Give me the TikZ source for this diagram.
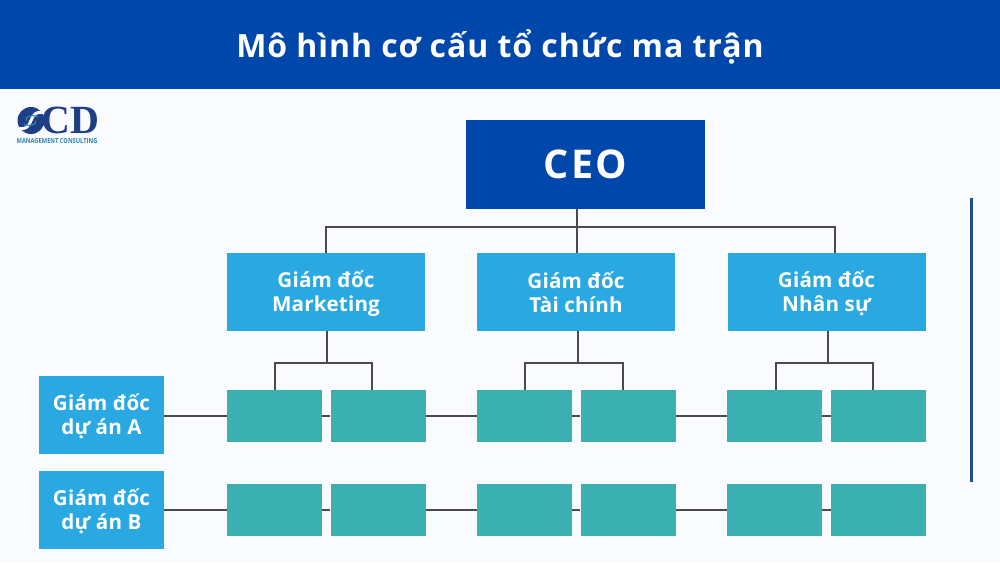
\documentclass[tikz,border=0pt]{standalone}
\usepackage{fontspec}
\setmainfont{Open Sans}
\newfontfamily\logofont{Liberation Serif}
\usepackage{xcolor}
\usetikzlibrary{calc}

\definecolor{titleblue}{HTML}{0047AB}
\definecolor{pagetint}{HTML}{F9FBFF}
\definecolor{dirblue}{HTML}{2AA8E2}
\definecolor{teamteal}{HTML}{3AB1B0}
\definecolor{wiregray}{HTML}{4A4A4F}
\definecolor{logoblue}{HTML}{1F3F85}
\definecolor{logoteal}{HTML}{2F83B5}
\definecolor{sidebar}{HTML}{1E4F93}

\newcommand{\boxstrut}{\rule[-2.4pt]{0pt}{22.4pt}}
\newcommand{\twolines}[2]{\boxstrut #1\\\boxstrut #2}

\tikzset{
	dirbox/.style={fill=dirblue, text=white, font=\fontsize{20.6}{24}\selectfont\bfseries\addfontfeatures{LetterSpace=1}, align=center, minimum width=198pt, minimum height=78pt, inner sep=0pt},
	leadbox/.style={dirbox, minimum width=125pt},
	teambox/.style={fill=teamteal, minimum width=95pt, minimum height=52pt, inner sep=0pt},
	wire/.style={draw=wiregray, line width=1.5pt}
}

\begin{document}
\begin{tikzpicture}[x=1pt, y=-1pt]
		\useasboundingbox (0,0) rectangle (1000,562);
		\fill [pagetint] (0,0) rectangle (1000,562);

		\begin{scope}
			\fill [titleblue] (0,0) rectangle (1000,88.5);
			\node [anchor=base, text=white, font=\fontsize{32}{36}\selectfont\bfseries\addfontfeatures{LetterSpace=2.9}] (title) at (500,57.3) {Mô hình cơ cấu tổ chức ma trận};
		\end{scope}

		\begin{scope}
			\fill [logoblue] (31,120.5) circle [radius=13.5];
			\draw [pagetint, line width=3pt] (46,113) .. controls (24,108) and (38,133) .. (16,128);
			\draw [logoteal, line width=1.2pt] (38,116.5) .. controls (29,114.5) and (25,117) .. (26.5,120.5);
			\draw [logoteal, line width=1.2pt] (24,124.5) .. controls (33,126.5) and (37,124) .. (35.5,120.5);
			\node [text=logoblue, font=\fontsize{40}{40}\logofont\bfseries, inner sep=0pt] (logoCD) at (70.5,120.5) {CD};
			\node [text=logoteal, font=\fontsize{7}{8}\selectfont\bfseries, inner sep=0pt, xscale=0.82] (logoText) at (57,141) {MANAGEMENT CONSULTING};
		\end{scope}

		\begin{scope}
			\node [fill=titleblue, text=white, font=\fontsize{39.6}{44}\selectfont\bfseries\addfontfeatures{LetterSpace=6}, minimum width=239pt, minimum height=89pt, inner sep=0pt] (ceo) at (585.5,164.5) {CEO};

			\node [dirbox] (dirM) at (326,292) {\twolines{Giám đốc}{Marketing}};
			\node [dirbox] (dirT) at (576,292) {\twolines{Giám đốc}{Tài chính}};
			\node [dirbox] (dirN) at (826.5,292) {\twolines{Giám đốc}{Nhân sự}};

			\node [leadbox] (leadA) at (101.5,415) {\twolines{Giám đốc}{dự án A}};
			\node [leadbox] (leadB) at (101.5,510) {\twolines{Giám đốc}{dự án B}};
		\end{scope}

		\begin{scope}
			\node [teambox] (teamA1) at (274.5,416) {};
			\node [teambox] (teamA2) at (378,416) {};
			\node [teambox] (teamA3) at (524.5,416) {};
			\node [teambox] (teamA4) at (628,416) {};
			\node [teambox] (teamA5) at (774.5,416) {};
			\node [teambox] (teamA6) at (878.5,416) {};

			\node [teambox] (teamB1) at (274.5,510) {};
			\node [teambox] (teamB2) at (378,510) {};
			\node [teambox] (teamB3) at (524.5,510) {};
			\node [teambox] (teamB4) at (628,510) {};
			\node [teambox] (teamB5) at (774.5,510) {};
			\node [teambox] (teamB6) at (878.5,510) {};
		\end{scope}

		\begin{scope}
			\coordinate (ceoOut) at (577,209);
			\coordinate (ceoBus) at (577,227);
			\coordinate (dirMIn) at (326,253);
			\coordinate (dirTIn) at (577,253);
			\coordinate (dirNIn) at (835,253);
			\draw [wire] (ceoOut) -- (dirTIn);
			\draw [wire] (dirMIn) |- (ceoBus) -| (dirNIn);
		\end{scope}

		\begin{scope}
			\coordinate (dirMOut) at (327,331);
			\coordinate (busM) at (327,363);
			\coordinate (inM1) at (275,390);
			\coordinate (inM2) at (372,390);
			\draw [wire] (dirMOut) -- (busM);
			\draw [wire] (inM1) |- (busM) -| (inM2);

			\coordinate (dirTOut) at (578,331);
			\coordinate (busT) at (578,363);
			\coordinate (inT1) at (525,390);
			\coordinate (inT2) at (623,390);
			\draw [wire] (dirTOut) -- (busT);
			\draw [wire] (inT1) |- (busT) -| (inT2);

			\coordinate (dirNOut) at (828,331);
			\coordinate (busN) at (828,363);
			\coordinate (inN1) at (776,390);
			\coordinate (inN2) at (873,390);
			\draw [wire] (dirNOut) -- (busN);
			\draw [wire] (inN1) |- (busN) -| (inN2);
		\end{scope}

		\begin{scope}
			\draw [wire] (leadA.east |- teamA1) -- (teamA1) -- (teamA2) -- (teamA3) -- (teamA4) -- (teamA5) -- (teamA6);
			\draw [wire] (leadB) -- (teamB1) -- (teamB2) -- (teamB3) -- (teamB4) -- (teamB5) -- (teamB6);
		\end{scope}

		\begin{scope}
			\draw [sidebar, line width=2.5pt] (971.5,198) -- (971.5,481.5);
		\end{scope}
	\end{tikzpicture}
\end{document}
